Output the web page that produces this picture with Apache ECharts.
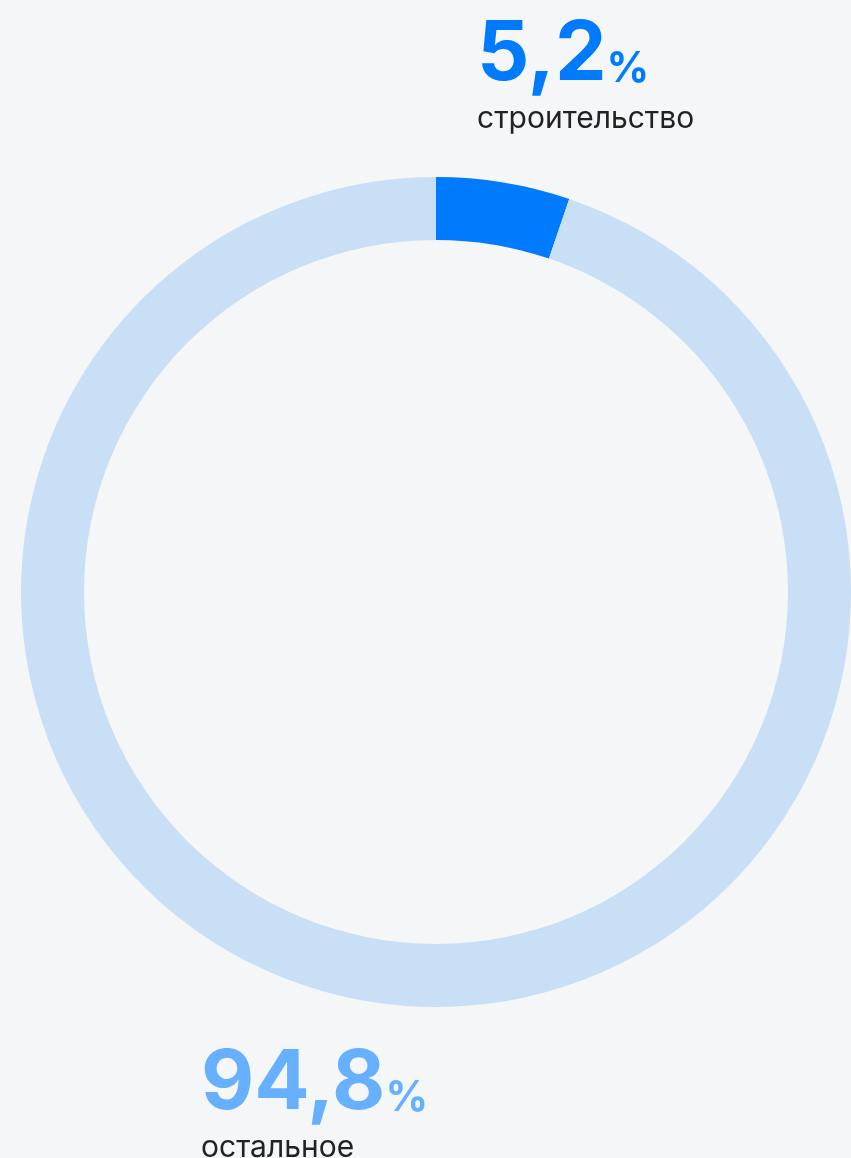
<!DOCTYPE html>
<html>
<head>
<meta charset="utf-8">
<script src="https://cdn.jsdelivr.net/npm/echarts@6/dist/echarts.min.js"></script>
<style>
  html, body { margin: 0; padding: 0; background: #f4f6f8; }
  #chart { width: 851px; height: 1158px; }
</style>
</head>
<body>
<div id="chart"></div>
<script>
  var categories = ['строительство', 'остальное'];
  var shares = [5.2, 94.8];
  var shareLabels = ['5,2', '94,8'];
  var colors = ['#007bfe', '#c8dff5'];
  var labelColors = ['#007bfe', '#66b0ff'];

  var chart = echarts.init(document.getElementById('chart'));

  function makeTitle(i, left, top) {
    return {
      left: left,
      top: top,
      text: '{n|' + shareLabels[i] + '}{p|%}',
      subtext: categories[i],
      itemGap: 6,
      textStyle: {
        rich: {
          n: {
            fontFamily: 'Inter',
            fontWeight: 'bold',
            fontSize: 82,
            color: labelColors[i],
            lineHeight: 82,
            verticalAlign: 'bottom'
          },
          p: {
            fontFamily: 'Inter',
            fontWeight: 'bold',
            fontSize: 42,
            color: labelColors[i],
            lineHeight: 42,
            verticalAlign: 'bottom',
            padding: [0, 0, 6, 0]
          }
        }
      },
      subtextStyle: {
        fontFamily: 'Inter',
        fontSize: 30,
        color: '#222222',
        lineHeight: 34
      }
    };
  }

  var option = {
    backgroundColor: '#f4f6f8',
    animation: false,
    title: [
      makeTitle(0, 472, 9),
      makeTitle(1, 196, 1038)
    ],
    tooltip: { show: false },
    legend: { show: false },
    series: [{
      type: 'pie',
      silent: true,
      center: [436, 592],
      radius: [352, 415],
      startAngle: 90,
      clockwise: true,
      label: { show: false },
      labelLine: { show: false },
      data: categories.map(function (name, i) {
        return { name: name, value: shares[i], itemStyle: { color: colors[i] } };
      })
    }]
  };

  chart.setOption(option);
</script>
</body>
</html>
